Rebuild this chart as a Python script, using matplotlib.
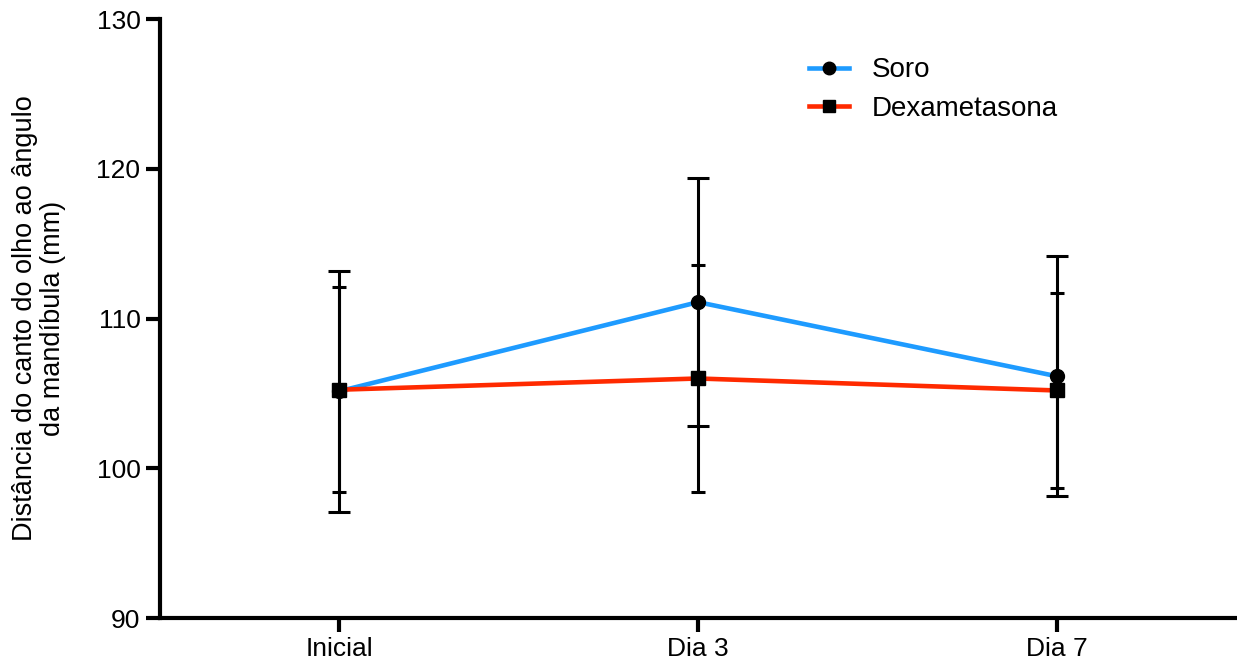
import matplotlib.pyplot as plt

plt.rcParams['font.family'] = ['Liberation Sans', 'DejaVu Sans']

dias = ["Inicial", "Dia 3", "Dia 7"]
soro = [105.15, 111.1, 106.15]
soro_err = [8.05, 8.3, 8.0]
dexa = [105.25, 106.0, 105.2]
dexa_err = [6.85, 7.6, 6.5]

fig = plt.figure(figsize=(12.37, 6.61), dpi=100)
ax = fig.add_axes([0.1293, 0.065, 0.87, 0.906])

x = range(len(dias))
e1 = ax.errorbar(x, soro, yerr=soro_err, color='#1e9bff', lw=3.3, marker='o', ms=10,
                 mfc='black', mec='black', ecolor='black', elinewidth=2.2,
                 capsize=8, capthick=2.2, zorder=3)
e2 = ax.errorbar(x, dexa, yerr=dexa_err, color='#ff2a00', lw=3.3, marker='s', ms=10,
                 mfc='black', mec='black', ecolor='black', elinewidth=2.2,
                 capsize=5, capthick=2.2, zorder=4)

ax.set_xlim(-0.5, 2.5)
ax.set_ylim(90, 130)
ax.set_yticks([90, 100, 110, 120, 130])
ax.set_xticks(list(x))
ax.set_xticklabels(dias)
ax.spines['top'].set_visible(False)
ax.spines['right'].set_visible(False)
for s in ['left', 'bottom']:
    ax.spines[s].set_linewidth(3)
ax.tick_params(width=3, length=10, labelsize=19, pad=4)
ax.set_ylabel("Distância do canto do olho ao ângulo\nda mandíbula (mm)",
              fontsize=19.5, labelpad=22, linespacing=1.1)

ax.legend([e1[0], e2[0]], ['Soro', 'Dexametasona'], loc='upper left',
          bbox_to_anchor=(0.58, 0.978), frameon=False, fontsize=20,
          handlelength=1.45, handletextpad=0.8, labelspacing=0.45, markerscale=0.9)

fig.savefig('out.png', dpi=100)
